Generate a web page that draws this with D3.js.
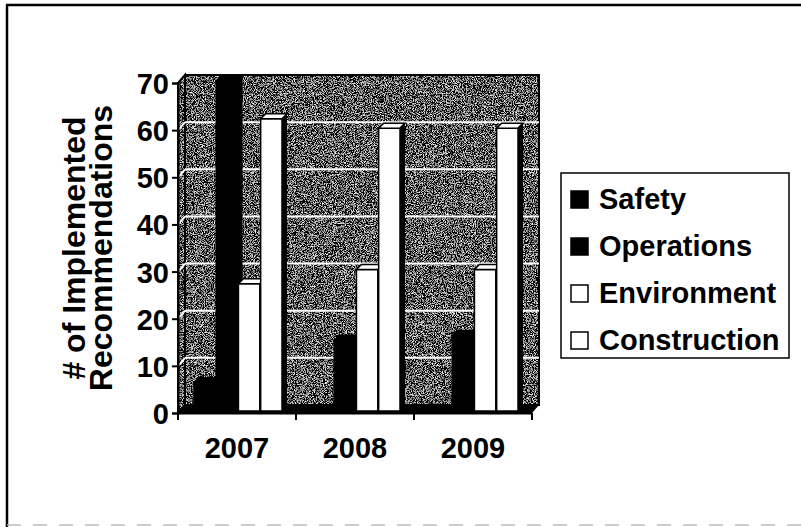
<!DOCTYPE html>
<html><head><meta charset="utf-8">
<script src="https://cdn.jsdelivr.net/npm/d3@7"></script>
<style>body{margin:0;background:#fff}svg{display:block}text{font-family:"Liberation Sans",Arial,sans-serif;font-weight:bold;fill:#000}</style>
</head><body>
<svg id="c" width="801" height="527"></svg>
<script>
const years = ["2007","2008","2009"];
const series = ["Safety","Operations","Environment","Construction"];
const safety = [6,0,0];
const operations = [70,15,16];
const environment = [27,30,30];
const construction = [62,60,60];
const yTicks = [0,10,20,30,40,50,60,70];
const values = [safety, operations, environment, construction];
const seriesFill = ["#000","#000","#fff","#fff"];

const svg = d3.select("#c");
const defs = svg.append("defs");
const f = defs.append("filter").attr("id","speck").attr("x",0).attr("y",0).attr("width","100%").attr("height","100%");
f.append("feTurbulence").attr("type","fractalNoise").attr("baseFrequency",1.1).attr("numOctaves",2).attr("seed",7).attr("result","n");
f.append("feColorMatrix").attr("in","n").attr("type","matrix")
 .attr("values","0.33 0.33 0.33 0 0 0.33 0.33 0.33 0 0 0.33 0.33 0.33 0 0 0 0 0 0 1").attr("result","g");
const ct = f.append("feComponentTransfer").attr("in","g").attr("result","t");
["feFuncR","feFuncG","feFuncB"].forEach(k=>ct.append(k).attr("type","linear").attr("slope",5.5).attr("intercept",-2.6));
f.append("feComposite").attr("in","t").attr("in2","SourceGraphic").attr("operator","in");

// outer frame
svg.append("line").attr("x1",7).attr("y1",5).attr("x2",7).attr("y2",527).attr("stroke","#000").attr("stroke-width",2.5);
svg.append("line").attr("x1",6).attr("y1",5).attr("x2",801).attr("y2",5).attr("stroke","#000").attr("stroke-width",2.5);
svg.append("line").attr("x1",7).attr("y1",525).attr("x2",801).attr("y2",525).attr("stroke","#bbb").attr("stroke-width",1.5).attr("stroke-dasharray","14 12");

const L=178,R=532,DX=7,DY=8;
const y = d3.scaleLinear().domain([0,70]).range([413,83]);
const x0 = d3.scaleBand().domain(years).range([L,R]);
const x1 = d3.scaleBand().domain(series).range([14,102]).paddingInner(0.04);

// walls
const wall = svg.append("g");
const backPts = [[L+DX,y(70)-DY],[R+DX,y(70)-DY],[R+DX,y(0)-DY],[L+DX,y(0)-DY]];
const sidePts = [[L,y(70)],[L+DX,y(70)-DY],[L+DX,y(0)-DY],[L,y(0)]];
[backPts,sidePts].forEach(p=>wall.append("polygon").attr("points",p.join(" ")).attr("fill","#000").attr("filter","url(#speck)"));
[backPts,sidePts].forEach(p=>wall.append("polygon").attr("points",p.join(" ")).attr("fill","none").attr("stroke","#000").attr("stroke-width",2));
// gridlines
yTicks.filter(v=>v>0&&v<70).forEach(v=>{
  wall.append("line").attr("x1",L+DX).attr("x2",R+DX).attr("y1",y(v)-DY).attr("y2",y(v)-DY).attr("stroke","#fff").attr("stroke-width",2);
  wall.append("line").attr("x1",L+1).attr("x2",L+DX).attr("y1",y(v)-1).attr("y2",y(v)-DY).attr("stroke","#fff").attr("stroke-width",2);
});
// floor
wall.append("polygon").attr("points",[[L,y(0)],[R,y(0)],[R+DX,y(0)-DY],[L+DX,y(0)-DY]].join(" ")).attr("fill","#000");

// bars
const bx=2, by=-2, d=5;
const gb = svg.append("g");
years.forEach((yr,i)=>{
  series.forEach((s,j)=>{
    const v = values[j][i];
    if(v<=0) return;
    const xl = x0(yr)+x1(s)+bx, w = x1.bandwidth();
    const yt = y(v)+by, yb = y(0)+by;
    const fill = seriesFill[j];
    gb.append("polygon").attr("points",[[xl+w,yt],[xl+w+d,yt-d],[xl+w+d,yb-d],[xl+w,yb]].join(" ")).attr("fill","#000");
    gb.append("rect").attr("x",xl).attr("y",yt).attr("width",w).attr("height",yb-yt)
      .attr("fill",fill).attr("stroke","#000").attr("stroke-width",1.5);
    gb.append("polygon").attr("points",[[xl,yt],[xl+w,yt],[xl+w+d,yt-d],[xl+d,yt-d]].join(" "))
      .attr("fill",fill).attr("stroke","#000").attr("stroke-width",1.5);
  });
});

// axes
const ya = svg.append("g").attr("transform",`translate(${L},0)`)
  .call(d3.axisLeft(y).tickValues(yTicks).tickSize(6).tickPadding(3).tickFormat(d3.format("d")));
ya.select(".domain").attr("stroke","#000").attr("stroke-width",2);
ya.selectAll(".tick line").attr("stroke","#000").attr("stroke-width",2);
ya.selectAll(".tick text").style("font-size","29px").attr("dy","0.36em").attr("fill","#000");

const xa = svg.append("g").attr("transform",`translate(0,${y(0)})`)
  .call(d3.axisBottom(x0).tickSize(0).tickFormat(""));
xa.select(".domain").attr("stroke","#000").attr("stroke-width",2);
[L, ...years.map(yr=>x0(yr)+x0.bandwidth())].forEach(xx=>{
  svg.append("line").attr("x1",xx).attr("x2",xx).attr("y1",y(0)).attr("y2",y(0)+7).attr("stroke","#000").attr("stroke-width",2);
});
years.forEach(yr=>{
  svg.append("text").attr("x",x0(yr)+x0.bandwidth()/2).attr("y",458).attr("text-anchor","middle").style("font-size","29px").text(yr);
});

// y title
svg.append("text").attr("transform","translate(85,248) rotate(-90)").attr("text-anchor","middle").style("font-size","32px").text("# of Implemented");
svg.append("text").attr("transform","translate(112,248) rotate(-90)").attr("text-anchor","middle").style("font-size","32px").text("Recommendations");

// legend
const lg = svg.append("g");
lg.append("rect").attr("x",561).attr("y",173).attr("width",228).attr("height",185).attr("fill","#fff").attr("stroke","#000").attr("stroke-width",1.5);
series.forEach((s,j)=>{
  const yb = 209 + j*47;
  lg.append("rect").attr("x",571).attr("y",yb-18).attr("width",17).attr("height",17)
    .attr("fill",seriesFill[j]).attr("stroke","#000").attr("stroke-width",1.5);
  lg.append("text").attr("x",599).attr("y",yb).style("font-size","29px").text(s);
});
</script>
</body></html>
